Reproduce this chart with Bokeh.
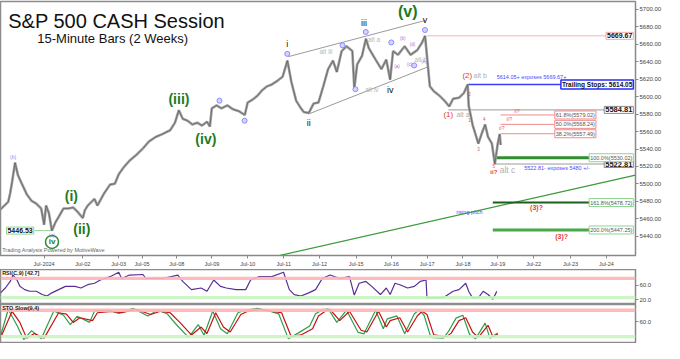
from bokeh.plotting import figure
from bokeh.layouts import column
from bokeh.models import Range1d, FixedTicker, Label, BoxAnnotation, NumeralTickFormatter
from bokeh.embed import file_html
from bokeh.resources import INLINE

# ---------------- data ----------------
date_ticks = [1.0, 2.08, 3.08, 3.73, 4.70, 5.68, 6.68, 7.68, 8.68, 9.70, 10.68, 11.68, 12.68, 13.65, 14.65, 15.68, 16.68]
date_labels = ["Jul-2024", "Jul-02", "Jul-03", "Jul-05", "Jul-08", "Jul-09", "Jul-10", "Jul-11", "Jul-12",
               "Jul-15", "Jul-16", "Jul-17", "Jul-18", "Jul-19", "Jul-22", "Jul-23", "Jul-24"]
price_ticks = [5440, 5460, 5480, 5500, 5520, 5540, 5560, 5580, 5600, 5620, 5640, 5660, 5680, 5700]

px_x = [-0.216, 0.0, 0.054, 0.108, 0.189, 0.270, 0.378, 0.514, 0.649, 0.784,
        0.919, 1.0, 1.054, 1.135, 1.216, 1.324, 1.405, 1.541, 1.676, 1.811,
        1.946, 2.081, 2.135, 2.216, 2.405, 2.486, 2.676, 2.838, 2.973, 3.081,
        3.216, 3.378, 3.568, 3.757, 3.919, 4.108, 4.297, 4.514, 4.649, 4.757,
        4.865, 5.0, 5.135, 5.270, 5.405, 5.541, 5.622, 5.676, 5.811, 5.946,
        6.108, 6.270, 6.432, 6.595, 6.676, 6.811, 6.946, 7.081, 7.216, 7.351,
        7.514, 7.649, 7.784, 7.892, 8.027, 8.162, 8.243, 8.378, 8.514, 8.649,
        8.784, 8.919, 9.054, 9.162, 9.297, 9.432, 9.595, 9.649, 9.730, 9.865,
        9.973, 10.054, 10.243, 10.405, 10.541, 10.649, 10.730, 10.865, 11.054, 11.216,
        11.405, 11.541, 11.622, 11.730, 11.757, 11.865, 12.027, 12.162, 12.297, 12.405,
        12.568, 12.703, 12.811, 12.838, 12.946, 13.027, 13.108, 13.216, 13.297, 13.378,
        13.486, 13.568, 13.649, 13.703, 13.730]
px_c = [5470.8, 5479.5, 5489.4, 5502.5, 5524.4, 5510.1, 5500.3, 5488.3, 5480.6, 5477.3,
        5471.9, 5453.3, 5475.2, 5466.4, 5446.5, 5456.6, 5462.1, 5471.9, 5471.9, 5473.0,
        5467.5, 5460.9, 5469.7, 5475.2, 5482.8, 5475.2, 5489.4, 5499.2, 5500.3, 5511.2,
        5518.9, 5526.5, 5533.1, 5540.7, 5548.4, 5553.8, 5557.1, 5561.5, 5570.2, 5584.4,
        5574.6, 5572.4, 5568.0, 5570.2, 5566.9, 5571.3, 5565.8, 5586.6, 5589.9, 5586.6,
        5589.9, 5585.5, 5583.3, 5579.0, 5593.2, 5596.5, 5600.9, 5607.4, 5611.8, 5614.0,
        5618.4, 5622.7, 5641.3, 5617.3, 5595.4, 5586.6, 5582.3, 5581.2, 5592.1, 5593.2,
        5611.8, 5631.5, 5641.3, 5628.2, 5652.2, 5657.7, 5652.2, 5609.6, 5636.9, 5646.8,
        5666.4, 5655.5, 5642.4, 5631.5, 5642.4, 5619.4, 5652.2, 5647.9, 5657.7, 5647.9,
        5653.3, 5662.1, 5669.7, 5622.7, 5611.8, 5606.3, 5600.9, 5595.4, 5588.8, 5597.6,
        5598.7, 5604.1, 5614.0, 5590.0, 5568.0, 5557.1, 5546.2, 5559.3, 5568.0, 5553.8,
        5546.2, 5522.8, 5546.2, 5557.1, 5544.6]

low_mark = 5446.53
high_mark = 5669.67
stop_level = 5614.05
pivot_one = 5584.81
pivot_five = 5522.81
last_close = 5544.59
fib_levels = [5579.02, 5568.24, 5557.49]
fib_texts = ["61.8%(5579.02)", "50.0%(5568.24)", "38.2%(5557.49)"]
ext_levels = [5530.02, 5478.72, 5447.25]
ext_texts = ["100.0%(5530.02)", "161.8%(5478.72)", "200.0%(5447.25)"]

rsi_x = [-0.216, -0.081, 0.054, 0.135, 0.243, 0.324, 0.459, 0.595, 0.784, 0.946,
         1.081, 1.216, 1.405, 1.595, 1.865, 2.027, 2.216, 2.405, 2.568, 2.838,
         3.081, 3.162, 3.378, 3.757, 3.838, 4.297, 4.730, 4.865, 5.108, 5.378,
         5.541, 5.730, 5.919, 6.081, 6.351, 6.622, 6.757, 7.0, 7.351, 7.676,
         7.838, 7.973, 8.162, 8.378, 8.568, 8.757, 8.973, 9.243, 9.514, 9.649,
         9.784, 9.973, 10.135, 10.378, 10.541, 10.649, 10.784, 10.919, 11.135, 11.324,
         11.486, 11.649, 11.676, 11.946, 12.162, 12.405, 12.568, 12.757, 12.838, 12.946,
         13.108, 13.243, 13.378, 13.514, 13.622]
rsi_v = [38.7, 52, 70, 87.5, 74, 56.5, 47.5, 43, 43, 34,
         30, 38.7, 47.5, 56.5, 56.5, 52, 61, 65, 74, 83,
         95, 78, 87.5, 89, 78, 78, 87.5, 70, 47.5, 52,
         43, 74, 56.5, 52, 47.5, 47.5, 74, 83, 83, 95,
         47.5, 34, 30, 38.7, 47.5, 78, 87.5, 78, 83, 32.5,
         65, 70, 56.5, 34, 52, 34, 65, 61, 52, 56.5,
         70, 74, 25, 25, 27, 43, 47.5, 65, 43, 25,
         25, 43, 34, 21, 42.7]
rsi_last = 42.7

sto_dx = [-0.216, 0.108, 0.324, 0.514, 0.730, 1.0, 1.405, 1.622, 1.811, 2.0,
          2.351, 2.486, 2.892, 3.162, 3.568, 3.973, 4.243, 4.514, 4.784, 5.108,
          5.378, 5.541, 5.784, 6.0, 6.189, 6.486, 6.676, 7.027, 7.351, 7.622,
          7.892, 8.162, 8.486, 8.649, 8.838, 8.973, 9.243, 9.514, 9.838, 10.0,
          10.324, 10.541, 10.649, 10.919, 11.135, 11.405, 11.541, 11.676, 11.865, 12.216,
          12.351, 12.568, 12.757, 12.946, 13.108, 13.378, 13.514, 13.649]
sto_d = [14, 89, 58, 14, 27, 14, 85, 81, 58, 71,
         63, 85, 89, 85, 94, 80, 89, 85, 58, 23,
         45, 27, 85, 45, 31, 80, 89, 94, 89, 85,
         18, 23, 40, 76, 89, 94, 63, 89, 36, 31,
         89, 45, 63, 71, 31, 76, 89, 80, 23, 18,
         28, 63, 71, 31, 16, 50, 18, 24.8]
sto_kx = [-0.216, 0.0, 0.243, 0.432, 0.649, 0.919, 1.270, 1.541, 1.730, 1.919,
          2.270, 2.405, 2.811, 3.081, 3.486, 3.892, 4.162, 4.432, 4.703, 5.027,
          5.297, 5.459, 5.703, 5.919, 6.108, 6.405, 6.595, 6.946, 7.270, 7.541,
          7.811, 8.081, 8.405, 8.568, 8.757, 8.919, 9.162, 9.432, 9.757, 9.919,
          10.243, 10.459, 10.568, 10.838, 11.054, 11.324, 11.459, 11.595, 11.784, 12.135,
          12.270, 12.486, 12.676, 12.865, 13.027, 13.297, 13.432, 13.649]
sto_k = [20, 94, 50, 10, 35, 12, 90, 78, 52, 75,
         58, 90, 92, 83, 97, 76, 92, 82, 50, 16,
         52, 22, 90, 40, 26, 85, 92, 97, 90, 82,
         12, 28, 48, 82, 93, 96, 58, 92, 30, 26,
         92, 40, 68, 76, 26, 82, 93, 78, 16, 14,
         32, 70, 78, 24, 12, 56, 14, 28]
sto_last = 24.8

rsi_bands = [(74, 83), (21, 30)]
sto_bands = [(87, 97), (14, 23)]

# ---------------- styling helpers ----------------
FONT = "Liberation Sans"
W = 664
XR = Range1d(-0.216, 17.49)


def make_fig(h, yr, xloc, top):
    f = figure(width=W, height=h, x_range=XR, y_range=yr, output_backend="svg",
               toolbar_location=None, y_axis_location="right", x_axis_location=xloc,
               min_border_left=0, min_border_right=28, min_border_top=top, min_border_bottom=0)
    f.xgrid.visible = False
    f.ygrid.visible = False
    f.outline_line_color = "#8c8c8c"
    f.outline_line_width = 1.5
    f.yaxis.axis_line_color = "#888888"
    f.yaxis.major_tick_line_color = "#888888"
    f.yaxis.minor_tick_line_color = "#aaaaaa"
    f.yaxis.major_tick_out = 3
    f.yaxis.major_tick_in = 0
    f.yaxis.minor_tick_out = 2
    f.yaxis.minor_tick_in = 0
    f.yaxis.major_label_text_font_size = "6px"
    f.yaxis.major_label_text_font = FONT
    f.yaxis.major_label_text_color = "#444444"
    f.yaxis.major_label_standoff = 1
    return f


def lab(fig, x, y, t, color="#222222", size="7px", bold=False, align="center", base="middle",
        border=None, bw=1.0, pad=1):
    kw = dict(x=x, y=y, text=t, text_color=color, text_font_size=size, text_font=FONT,
              text_font_style="bold" if bold else "normal", text_align=align, text_baseline=base)
    if border:
        kw.update(border_line_color=border, border_line_width=bw, background_fill_color="white",
                  padding=pad)
    fig.add_layout(Label(**kw))


# ---------------- main price panel ----------------
p = make_fig(269, Range1d(5418, 5709), "below", 1)
p.yaxis.ticker = FixedTicker(ticks=price_ticks)
p.yaxis.formatter = NumeralTickFormatter(format="0.00")
p.xaxis.ticker = FixedTicker(ticks=date_ticks)
p.xaxis.major_label_overrides = {t: l for t, l in zip(date_ticks, date_labels)}
p.xaxis.major_label_text_font_size = "5.5px"
p.xaxis.major_label_text_font = FONT
p.xaxis.major_label_text_color = "#444444"
p.xaxis.axis_line_color = "#888888"
p.xaxis.major_tick_line_color = "#888888"
p.xaxis.major_tick_out = 3
p.xaxis.major_tick_in = 0
p.xaxis.minor_tick_line_color = None
p.xaxis.major_label_standoff = 2

# rising pitch trendline and channel
p.line([7.35, 17.49], [5416, 5510.1], color="#3a9a3a", line_width=1.2)
p.line([7.81, 11.62], [5645.8, 5687.2], color="#9a9a9a", line_width=1)
p.line([8.38, 11.68], [5580.2, 5633.7], color="#9a9a9a", line_width=1)

# horizontal levels
p.segment(x0=[11.68], x1=[16.76], y0=[high_mark], y1=[high_mark], color="#f4b4b4", line_width=1)
p.segment(x0=[12.81], x1=[15.57], y0=[stop_level], y1=[stop_level], color="#3c3cff", line_width=1.5)
p.segment(x0=[12.27], x1=[16.76], y0=[pivot_one], y1=[pivot_one], color="#9a9a9a", line_width=1)
p.segment(x0=[13.57], x1=[16.76], y0=[pivot_five], y1=[pivot_five], color="#9a9a9a", line_width=1)
p.segment(x0=[13.73] * 3, x1=[15.24] * 3, y0=fib_levels, y1=fib_levels, color="#f08c8c", line_width=1)
p.segment(x0=[13.57, 13.51, 13.51], x1=[16.22] * 3, y0=ext_levels, y1=ext_levels,
          color=["#2f8f2f", "#1d5f1d", "#46a846"], line_width=[3, 2, 3])
p.segment(x0=[0.73], x1=[1.22], y0=[low_mark], y1=[low_mark], color="#9ad69a", line_width=1)

# price (15-minute bars rendered as a dense gray trace)
p.line(px_x, px_c, color="#a0a0a0", line_width=2.6)
p.line(px_x, px_c, color="#5a5a5a", line_width=0.7)

# wave markers (small blue circles)
mk_x = [5.89, 6.59, 7.78, 9.32, 9.68, 9.97, 10.68, 11.32, 11.62]
mk_y = [5595.3, 5572.4, 5649.0, 5658.8, 5608.5, 5674.1, 5662.1, 5635.8, 5676.3]
p.scatter(mk_x, mk_y, marker="circle", size=5, fill_color="#d4d4ff", line_color="#8a8aff", line_width=1)
p.scatter([1.22], [5433.6], marker="circle", size=13, fill_color="white", line_color="#2e8b2e", line_width=1.5)

# titles
lab(p, 0.0, 5687, "S&P 500 CASH Session", "#111111", "20px", align="left")
lab(p, 0.81, 5666.4, "15-Minute Bars (2 Weeks)", "#111111", "13px", align="left")

# green primary wave labels
for t, x, y in [("(i)", 1.76, 5486), ("(ii)", 2.05, 5448), ("(iii)", 4.76, 5597.5), ("(iv)", 5.51, 5551.7)]:
    lab(p, x, y, t, "#1e7a1e", "14px", bold=True)
lab(p, 11.14, 5697, "(v)", "#1e7a1e", "16px", bold=True)
lab(p, 1.22, 5433.6, "iv", "#1e7a1e", "8px", bold=True)

# minor wave labels
for t, x, y in [("i", 7.78, 5660.5), ("ii", 8.38, 5569.5), ("iii", 9.92, 5684.5),
                ("iv", 10.65, 5607.5), ("v", 11.62, 5687.5)]:
    lab(p, x, y, t, "#111111", "9px")
lab(p, 0.135, 5530.9, "(b)", "#8c8cf0", "5px")
lab(p, 1.22, 5441.0, "(c)", "#8c8cf0", "5px")
for t, x, y in [("(a)", 10.84, 5635.0), ("(b)", 11.0, 5667.0), ("(c)", 11.19, 5637.0),
                ("(d)", 11.27, 5660.0), ("(e)", 11.59, 5640.0)]:
    lab(p, x, y, t, "#a070d0", "4.5px")

# alt labels
for t, x, y in [("alt iii", 8.86, 5652.2), ("alt a", 10.2, 5665.3), ("alt iv", 10.14, 5608.5),
                ("alt b", 11.5, 5642.4)]:
    lab(p, x, y, t, "#b8b8b8", "6.5px")
lab(p, 12.80, 5623.8, "(2)", "#e83a3a", "8px")
lab(p, 13.16, 5623.8, "alt b", "#b0b0b0", "7px")
lab(p, 12.27, 5580.0, "(1)", "#e83a3a", "8px")
lab(p, 12.68, 5580.0, "alt a", "#b0b0b0", "7px")
lab(p, 13.92, 5515.6, "alt c", "#b0b0b0", "8.5px")

# small red wave counts
for t, x, y in [("2", 12.86, 5603), ("1", 12.86, 5573.5), ("3", 13.11, 5540), ("4", 13.27, 5574.6),
                ("5", 13.54, 5521)]:
    lab(p, x, y, t, "#e85050", "4.5px")
lab(p, 13.54, 5514, "ii?", "#e83a3a", "6px", bold=True)
for (x, y) in [(14.19, 5583.5), (13.97, 5574.7), (13.76, 5563.8)]:
    lab(p, x, y, "ii?", "#e86060", "5.5px")
lab(p, 14.73, 5473, "(3)?", "#e83a3a", "7px", bold=True)
lab(p, 15.43, 5440, "(3)?", "#e83a3a", "7px", bold=True)

# blue notes
lab(p, 14.59, 5622.7, "5614.05+ exposes 5669.67+", "#4a4aff", "5.5px")
lab(p, 15.30, 5518, "5522.81- exposes 5480 +/-", "#4a4aff", "5.5px")
lab(p, 12.86, 5467.5, "rising pitch", "#4a4aff", "5.5px")

# boxed levels
lab(p, 17.43, high_mark, "5669.67", "#111111", "7px", bold=True, align="right", border="#f0a8a8")
lab(p, 17.43, stop_level, "Trailing Stops: 5614.05", "#111111", "6.5px", bold=True, align="right",
    border="#2a2aff", bw=1.5)
lab(p, 17.43, pivot_one, "5584.81", "#111111", "7.5px", bold=True, align="right", border="#8a8a8a")
lab(p, 17.43, pivot_five, "5522.81", "#111111", "7.5px", bold=True, align="right", border="#8a8a8a")
for lv, t in zip(fib_levels, fib_texts):
    lab(p, 15.24, lv, t, "#555555", "5.5px", align="left", border="#f08c8c")
for lv, t in zip(ext_levels, ext_texts):
    lab(p, 17.43, lv, t, "#555555", "5.5px", align="right", border="#8fd68f")
lab(p, -0.05, low_mark, "5446.53", "#111111", "7px", bold=True, align="left", border="#8fd68f")
lab(p, 17.56, last_close, "5544.59", "#333333", "5.5px", align="left", border="#8a8a8a")
lab(p, -0.17, 5423.8, "Trading Analysis Powered by MotiveWave", "#666666", "5.5px", align="left")

# ---------------- RSI panel ----------------
r = make_fig(35, Range1d(6.7, 102.7), None, 0)
r.yaxis.ticker = FixedTicker(ticks=[20, 60])
r.yaxis.formatter = NumeralTickFormatter(format="0.0")
for lo, hi, c in [(rsi_bands[0][0], rsi_bands[0][1], "#ffb4b4"), (rsi_bands[1][0], rsi_bands[1][1], "#c8f4c0")]:
    r.add_layout(BoxAnnotation(bottom=lo, top=hi, fill_color=c, fill_alpha=0.9, line_color=None))
r.line(rsi_x, rsi_v, color="#5b2c98", line_width=1.2)
lab(r, -0.17, 93, "RSI(C,9) [42.7]", "#222222", "5.5px", bold=True, align="left")
lab(r, 17.56, rsi_last, "42.7", "#333333", "5.5px", align="left", border="#8a8a8a")

# ---------------- Stochastic panel ----------------
s = make_fig(39, Range1d(-1, 108), None, 0)
s.yaxis.ticker = FixedTicker(ticks=[60])
s.yaxis.formatter = NumeralTickFormatter(format="0.0")
for lo, hi, c in [(sto_bands[0][0], sto_bands[0][1], "#ffb4b4"), (sto_bands[1][0], sto_bands[1][1], "#c8f4c0")]:
    s.add_layout(BoxAnnotation(bottom=lo, top=hi, fill_color=c, fill_alpha=0.9, line_color=None))
s.line(sto_kx, sto_k, color="#2e9e4e", line_width=1.2)
s.line(sto_dx, sto_d, color="#c81010", line_width=1.2)
lab(s, -0.17, 98, "STO Slow(9,4)", "#222222", "5.5px", bold=True, align="left")
lab(s, 17.56, sto_last, "24.8", "#333333", "5.5px", align="left", border="#8a8a8a")

layout = column(p, r, s, spacing=0)
open("out.html", "w").write(file_html(layout, INLINE))
